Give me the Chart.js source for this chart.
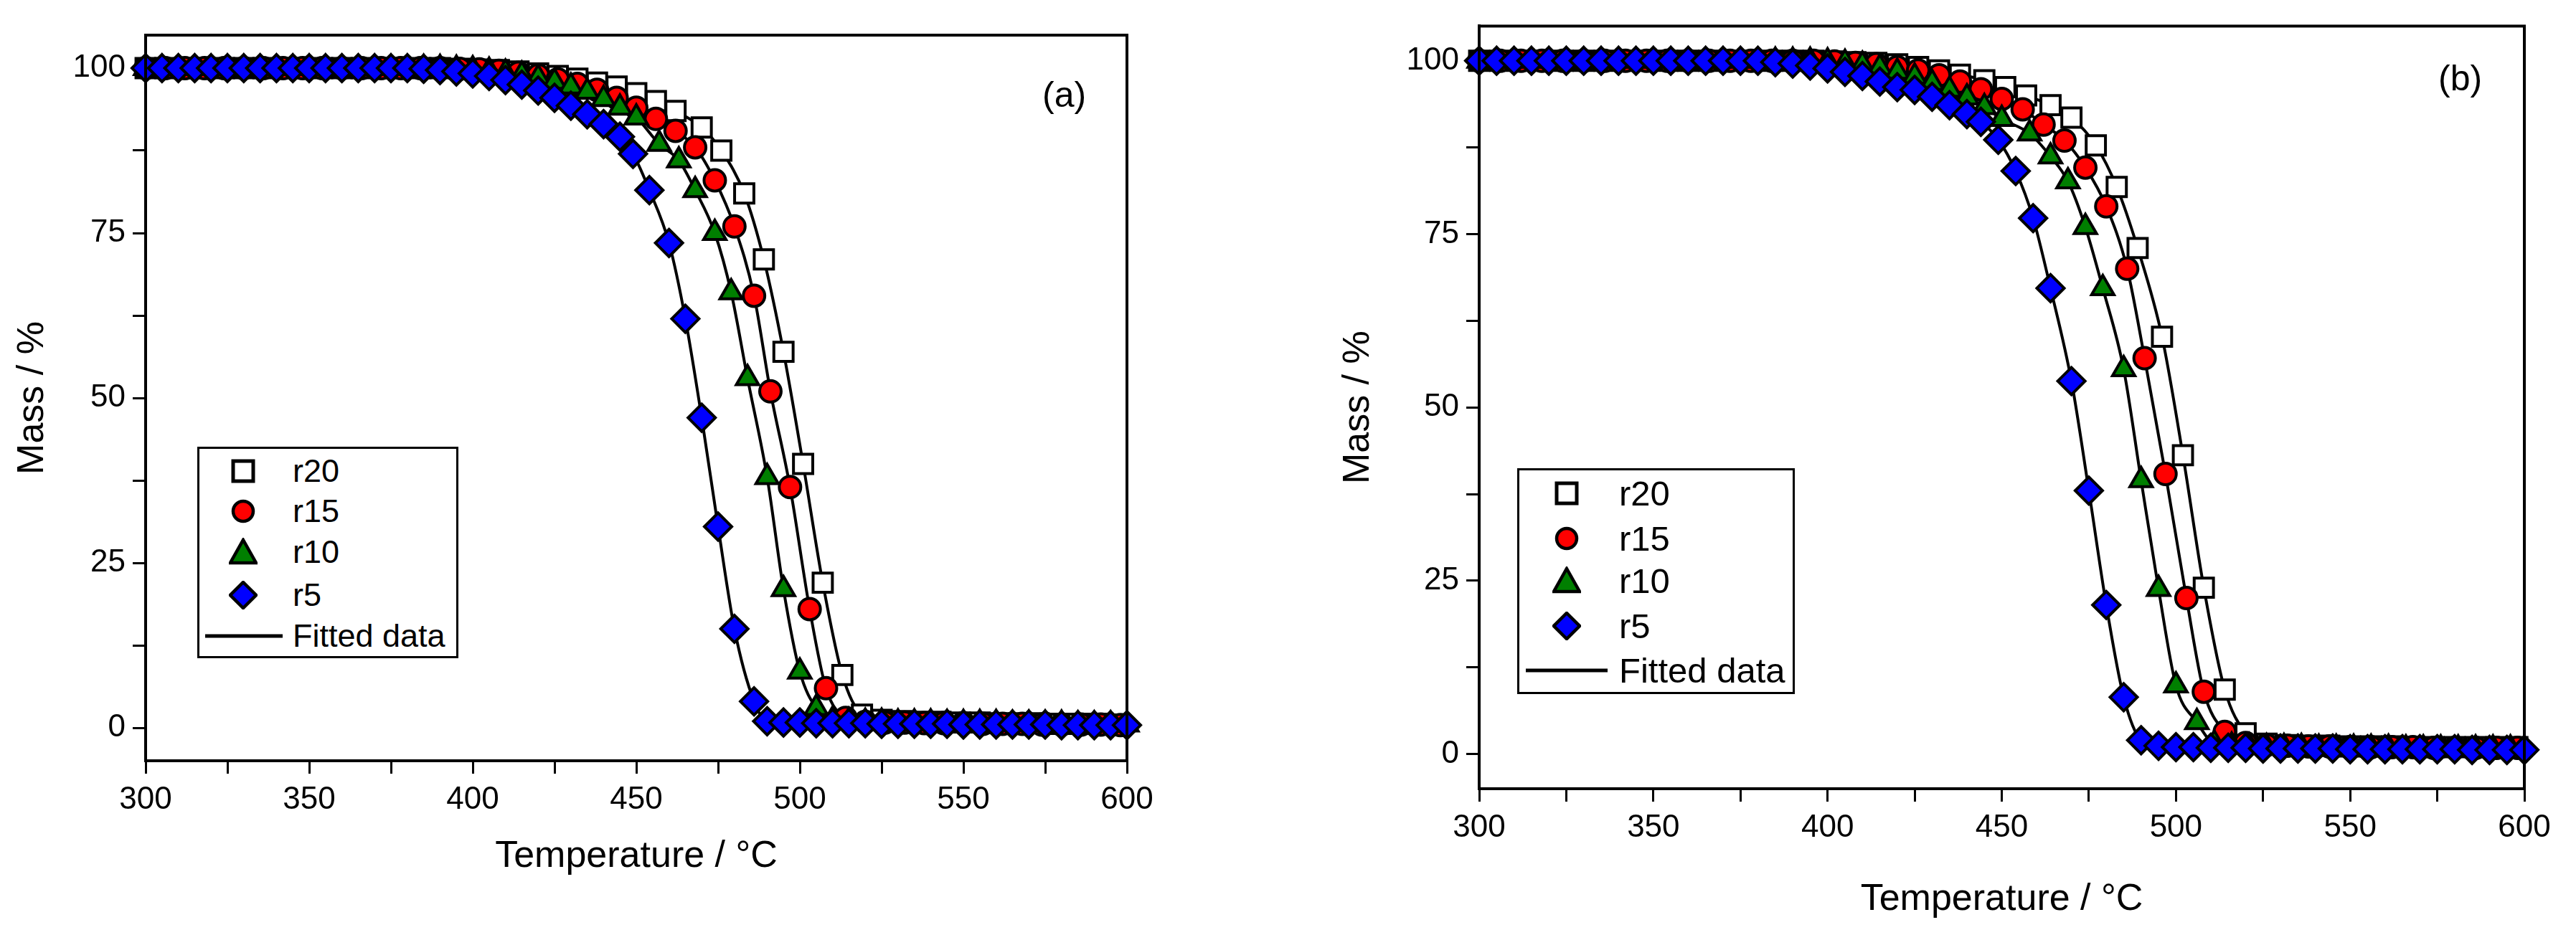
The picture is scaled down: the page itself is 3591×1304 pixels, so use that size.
<!DOCTYPE html>
<html><head><meta charset="utf-8">
<script src="https://cdn.jsdelivr.net/npm/chart.js@4"></script>
<style>
body{margin:0;background:#fff;width:3591px;height:1304px;position:relative;overflow:hidden;font-family:"Liberation Sans",Arial,sans-serif}
.cw{position:absolute;top:0;height:1304px}
.leg{position:absolute;border:3px solid #000;background:#fff;color:#000;box-sizing:border-box}
.row{position:absolute;left:0;height:50px;line-height:50px;white-space:nowrap}
.row svg{position:absolute;top:0}
.row span{position:absolute}
.lab{position:absolute;font-size:50px;color:#000}
</style></head><body>
<div class="cw" style="left:0;width:1640px"><canvas id="ca"></canvas></div>
<div class="cw" style="left:1850px;width:1741px"><canvas id="cb"></canvas></div>
<div class="lab" style="left:1453px;top:103px">(a)</div>
<div class="lab" style="left:3399px;top:80px">(b)</div>
<div class="leg" id="la" style="left:275px;top:623px;width:364px;height:295px;font-size:45px"></div>
<div class="leg" id="lb" style="left:2115px;top:653px;width:387px;height:315px;font-size:49px"></div>
<script>
const seriesNames = ["r20","r15","r10","r5"];
const xTicks = [300,325,350,375,400,425,450,475,500,525,550,575,600];
const yTicks = [0,12.5,25,37.5,50,62.5,75,87.5,100];

// Panel (a)
const a_r20_x = [300,306,312,318,324,330,336,342,348,354,360,366,372,378,384,390,396,402,408,414,420,426,432,438,444,450,456,462,470,476,483,489,495,501,507,513,519,525,531,537,543,549,555,561,567,573,579,585,591,597];
const a_r20_y = [100,100,100,100,100,100,100,100,100,100,100,100,100,100,100,100,99.9,99.8,99.7,99.5,99.2,98.8,98.4,97.8,97.2,96.2,95,93.5,91,87.5,81,71,57,40,22,8,2,1.2,1,0.9,0.9,0.8,0.8,0.7,0.7,0.7,0.6,0.6,0.6,0.5];
const a_r15_x = [300,306,312,318,324,330,336,342,348,354,360,366,372,378,384,390,396,402,408,414,420,426,432,438,444,450,456,462,468,474,480,486,491,497,503,508,514,520,526,532,538,544,550,556,562,568,574,580,586,592,598];
const a_r15_y = [100,100,100,100,100,100,100,100,100,100,100,100,100,100,100,100,99.9,99.8,99.6,99.3,98.9,98.3,97.6,96.7,95.5,94,92.3,90.5,88,83,76,65.5,51,36.5,18,6,1.5,0.9,0.8,0.8,0.7,0.7,0.7,0.6,0.6,0.6,0.5,0.5,0.5,0.5,0.4];
const a_r10_x = [300,305,310,315,320,325,330,335,340,345,350,355,360,365,370,375,380,385,390,395,400,405,410,415,420,425,430,435,440,445,450,457,463,468,474,479,484,490,495,500,505,510,515,520,525,530,535,540,545,550,555,560,565,570,575,580,585,590,595,600];
const a_r10_y = [100,100,100,100,100,100,100,100,100,100,100,100,100,100,100,100,100,100,100,99.9,99.8,99.6,99.3,99,98.5,97.9,97.2,96.4,95.3,94,92.5,88.5,86,81.5,75,66,53,38,21,8.5,3,1.2,1,0.9,0.9,0.8,0.8,0.8,0.7,0.7,0.7,0.7,0.6,0.6,0.6,0.6,0.5,0.5,0.5,0.5];
const a_r5_x = [300,305,310,315,320,325,330,335,340,345,350,355,360,365,370,375,380,385,390,395,400,405,410,415,420,425,430,435,440,445,449,454,460,465,470,475,480,486,490,495,500,505,510,515,520,525,530,535,540,545,550,555,560,565,570,575,580,585,590,595,600];
const a_r5_y = [100,100,100,100,100,100,100,100,100,100,100,100,100,100,100,100,100,99.9,99.7,99.5,99.2,98.8,98.2,97.5,96.6,95.5,94.3,93,91.5,89.6,87,81.5,73.5,62,47,30.5,15,4,1,0.8,0.8,0.7,0.7,0.7,0.7,0.6,0.6,0.6,0.6,0.6,0.5,0.5,0.5,0.5,0.5,0.5,0.4,0.4,0.4,0.4,0.4];

// Panel (b)
const b_r20_x = [300,306,312,318,324,330,336,342,348,354,360,366,372,378,384,390,396,402,408,414,420,426,432,438,445,451,457,464,470,477,483,489,496,502,508,514,520,526,532,538,544,550,556,562,568,574,580,586,592,598];
const b_r20_y = [100,100,100,100,100,100,100,100,100,100,100,100,100,100,100,100,100,99.9,99.8,99.7,99.5,99.1,98.6,98,97.2,96.2,95,93.6,91.8,87.8,81.8,73,60.2,43.1,24,9.3,3,1.5,1.3,1.2,1.2,1.1,1.1,1.1,1,1,1,1,1,1];
const b_r15_x = [300,306,312,318,324,330,336,342,348,354,360,366,372,378,384,390,396,402,408,414,420,426,432,438,444,450,456,462,468,474,480,486,491,497,503,508,514,520,526,532,538,544,550,556,562,568,574,580,586,592,598];
const b_r15_y = [100,100,100,100,100,100,100,100,100,100,100,100,100,100,100,100,100,99.9,99.7,99.5,99.1,98.6,97.9,97,95.9,94.5,93,90.8,88.5,84.6,79,70,57.1,40.4,22.5,9,3.2,1.6,1.3,1.2,1.1,1.1,1,1,1,1,0.9,0.9,0.9,0.9,0.9];
const b_r10_x = [300,305,310,315,320,325,330,335,340,345,350,355,360,365,370,375,380,385,390,395,400,405,410,415,420,425,430,435,440,445,450,458,464,469,474,479,485,490,495,500,506,511,516,521,526,531,536,541,546,551,556,561,566,571,576,581,586,591,596];
const b_r10_y = [100,100,100,100,100,100,100,100,100,100,100,100,100,100,100,100,100,100,100,100,99.9,99.7,99.4,99,98.4,97.7,96.8,95.8,94.7,93.3,91.6,89.5,86.2,82.6,76,67.2,55.5,39.5,23.8,9.9,4.6,1.5,1.2,1.1,1,1,1,0.9,0.9,0.9,0.9,0.9,0.8,0.8,0.8,0.8,0.8,0.8,0.8];
const b_r5_x = [300,305,310,315,320,325,330,335,340,345,350,355,360,365,370,375,380,385,390,395,400,405,410,415,420,425,430,435,440,444,449,454,459,464,470,475,480,485,490,495,500,505,510,515,520,525,530,535,540,545,550,555,560,565,570,575,580,585,590,595,600];
const b_r5_y = [100,100,100,100,100,100,100,100,100,100,100,100,100,100,100,100,100,99.8,99.6,99.3,98.9,98.4,97.8,97,96.2,95.8,94.8,93.6,92.3,91.2,88.6,84.1,77.3,67.2,53.8,38,21.5,8.2,2,1.2,1,1,0.9,0.9,0.9,0.8,0.8,0.8,0.8,0.8,0.7,0.7,0.7,0.7,0.7,0.7,0.7,0.6,0.6,0.6,0.6];

const styles = [
  {pointStyle:'rect', radius:19, bg:'#ffffff'},
  {pointStyle:'circle', radius:15, bg:'#ff0000'},
  {pointStyle:'triangle', radius:18, bg:'#007f00'},
  {pointStyle:'rectRot', radius:19, bg:'#0000ff'}
];
const FONT = '"Liberation Sans", Arial, sans-serif';

function pts(xs, ys){ return xs.map((x,i)=>({x:x, y:ys[i]})); }

const boxPlugin = {id:'box', afterDatasetsDraw(c){
  const a=c.chartArea, ctx=c.ctx; ctx.save(); ctx.strokeStyle='#000'; ctx.lineWidth=4;
  ctx.strokeRect(a.left,a.top,a.right-a.left,a.bottom-a.top); ctx.restore(); }};

function make(id, data, geo){
  const datasets=[];
  data.forEach((d,i)=>{
    datasets.push({label:seriesNames[i]+' fit', data:pts(d[0],d[1]), showLine:true, borderColor:'#000', borderWidth:4,
      pointRadius:0, cubicInterpolationMode:'monotone', order:10, fill:false});
  });
  data.forEach((d,i)=>{
    const s=styles[i];
    datasets.push({label:seriesNames[i], data:pts(d[0],d[1]), showLine:false, pointStyle:s.pointStyle,
      pointRadius:s.radius, pointBackgroundColor:s.bg, pointBorderColor:'#000', pointBorderWidth:4, order:4-i});
  });
  new Chart(document.getElementById(id), {
    type:'scatter', data:{datasets},
    plugins:[boxPlugin],
    options:{responsive:true, maintainAspectRatio:false, animation:false, clip:false,
      layout:{padding:{top:geo.top,right:geo.right,left:0,bottom:0}},
      plugins:{legend:{display:false}, tooltip:{enabled:false}},
      scales:{
        x:{type:'linear', min:300, max:600,
          afterBuildTicks:s=>{s.ticks=xTicks.map(v=>({value:v}));},
          afterFit:s=>{s.height=geo.xh;},
          ticks:{autoSkip:false, maxRotation:0, color:'#000', font:{family:FONT,size:44}, padding:10,
            callback:v=>(v%50===0?String(v):'')},
          grid:{drawOnChartArea:false, tickLength:18, tickWidth:3, tickColor:'#000'},
          border:{color:'#000', width:4},
          title:{display:true, text:'Temperature / °C', color:'#000', font:{family:FONT,size:52}, padding:{top:geo.xtp,bottom:geo.xtp}}},
        y:{type:'linear', min:-5, max:105,
          afterBuildTicks:s=>{s.ticks=yTicks.map(v=>({value:v}));},
          afterFit:s=>{s.width=geo.yw;},
          ticks:{autoSkip:false, color:'#000', font:{family:FONT,size:44}, padding:10,
            callback:v=>(v%25===0?String(v):'')},
          grid:{drawOnChartArea:false, tickLength:18, tickWidth:3, tickColor:'#000'},
          border:{color:'#000', width:4},
          title:{display:true, text:'Mass / %', color:'#000', font:{family:FONT,size:52}, padding:{top:geo.ytp,bottom:geo.ytp}}}
      }}
  });
}

make('ca', [[a_r20_x,a_r20_y],[a_r15_x,a_r15_y],[a_r10_x,a_r10_y],[a_r5_x,a_r5_y]],
  {top:49, right:69, xh:243, yw:203, xtp:78, ytp:14});
make('cb', [[b_r20_x,b_r20_y],[b_r15_x,b_r15_y],[b_r10_x,b_r10_y],[b_r5_x,b_r5_y]],
  {top:32, right:72, xh:204, yw:212, xtp:18, ytp:12});

function marker(i){
  if(i===0) return '<rect x="6" y="6" width="28" height="28" fill="#fff" stroke="#000" stroke-width="5"/>';
  if(i===1) return '<circle cx="20" cy="20" r="14" fill="#ff0000" stroke="#000" stroke-width="4.5"/>';
  if(i===2) return '<polygon points="20,3 38,35 2,35" fill="#007f00" stroke="#000" stroke-width="4.5"/>';
  return '<polygon points="20,0 40,20 20,40 0,20" transform="translate(2,2) scale(0.9)" fill="#0000ff" stroke="#000" stroke-width="5"/>';
}
function legend(id, rows, mx, tx, lx0, lx1){
  const el=document.getElementById(id); let h='';
  seriesNames.forEach((n,i)=>{
    h+='<div class="row" style="top:'+(rows[i]-25)+'px;width:100%"><svg width="40" height="40" style="left:'+(mx-20)+'px;top:5px">'+marker(i)+'</svg><span style="left:'+tx+'px">'+n+'</span></div>';
  });
  h+='<div class="row" style="top:'+(rows[4]-25)+'px;width:100%"><svg width="'+(lx1)+'" height="50" style="left:0"><line x1="'+lx0+'" y1="25" x2="'+lx1+'" y2="25" stroke="#000" stroke-width="5"/></svg><span style="left:'+tx+'px">Fitted data</span></div>';
  el.innerHTML=h;
}
legend('la',[31,87,144,204,261],61,130,8,116);
legend('lb',[32,95,154,217,279],66,139,9,123);
</script>
</body></html>
